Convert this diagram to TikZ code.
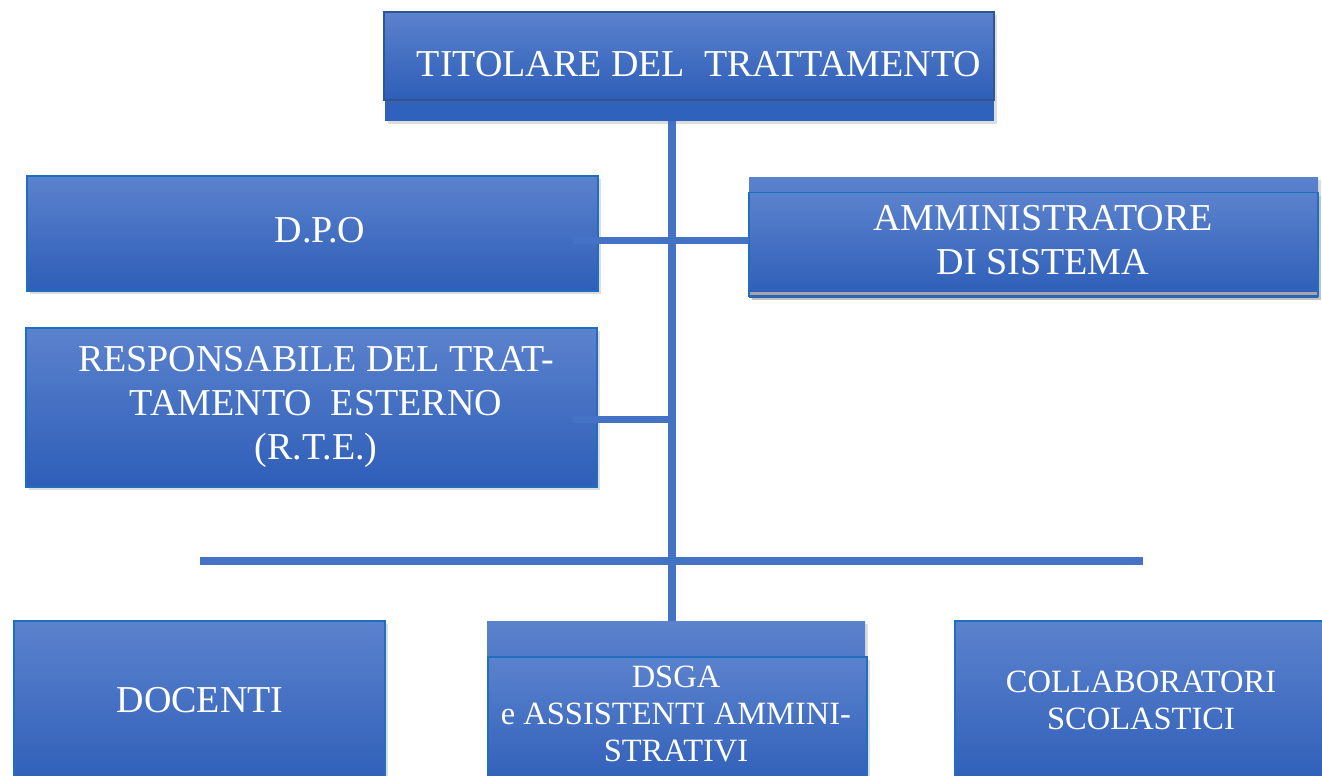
\documentclass[tikz,border=0pt]{standalone}
\usepackage{fontspec}
\setmainfont{Liberation Serif}
\usetikzlibrary{shadows}
\definecolor{ltop}{HTML}{5B82CD}
\definecolor{lbot}{HTML}{2E5EB8}
\definecolor{lnk}{HTML}{4472C4}
\definecolor{bord}{HTML}{1F6FC0}
\definecolor{bordd}{HTML}{2F5597}
\definecolor{bandc}{HTML}{2F62BD}
\begin{document}
\begin{tikzpicture}[x=1pt,y=-1pt,
  box/.style={rectangle, inner sep=0pt, outer sep=0pt, top color=ltop, bottom color=lbot,
    draw=bord, line width=1.2pt,
    drop shadow={shadow xshift=3pt, shadow yshift=-3pt, opacity=0.22, fill=black!60}},
  band/.style={rectangle, inner sep=0pt, outer sep=0pt, fill=bandc,
    drop shadow={shadow xshift=3pt, shadow yshift=-3pt, opacity=0.22, fill=black!60}},
  lbl/.style={text=white, align=center, inner sep=0pt, font=\fontsize{38}{44}\selectfont},
  lbls/.style={text=white, align=center, inner sep=0pt, font=\fontsize{32.5}{37}\selectfont},
  link/.style={draw=lnk, line width=7.5pt}]
\useasboundingbox (0,0) rectangle (1322,776);
\fill[white] (0,0) rectangle (1322,776);

\coordinate (tx) at (672,0);
\coordinate (h1) at (573,240);
\coordinate (h2) at (573,419);
\coordinate (hl) at (200,561);
\coordinate (hr) at (1143,561);

% boxes
\node[band, minimum width=609pt, minimum height=21pt] (tband) at (689.5,110.5) {};
\node[box, draw=bordd, minimum width=610pt, minimum height=88pt] (tit) at (689,56) {};
\node[box, minimum width=571pt, minimum height=115pt] (dpo) at (312.5,233.5) {};
\node[box, draw=none, minimum width=569pt, minimum height=120pt] (admo) at (1033.5,237) {};
\node[box, drop shadow={opacity=0}, minimum width=569pt, minimum height=104pt] (adm) at (1033.5,244.5) {};
\fill[black!35] (750,292) rectangle (1317,295);
\node[box, minimum width=571pt, minimum height=159pt] (rte) at (311.5,407.5) {};
\node[box, minimum width=371pt, minimum height=169pt] (doc) at (199.5,705.5) {};
\node[box, draw=none, minimum width=378pt, minimum height=169pt] (dsgao) at (676,705.5) {};
\node[box, drop shadow={opacity=0}, minimum width=379pt, minimum height=133pt] (dsga) at (677.5,723.5) {};
\node[box, minimum width=375pt, minimum height=169pt] (col) at (1142.5,705.5) {};

% connectors
\draw[link, line width=8pt] (tband.south -| tx) -- (dsgao.north -| tx);
\draw[link, line width=7pt] (h1) -- (h1 -| adm.west);
\draw[link, line width=7pt] (h2) -- (h2 -| tx);
\draw[link, line width=8pt] (hl) -- (hr);

% texts
\node[lbl] (ttit) at (699,64) {TITOLARE DEL\ \ TRATTAMENTO};
\node[lbl] (tdpo) at (320,230) {D.P.O};
\node[lbl] (tadm) at (1043,240) {AMMINISTRATORE\\DI SISTEMA};
\node[lbl] (trte) at (316,407) {RESPONSABILE DEL TRAT-\\TAMENTO\ \ ESTERNO\\(R.T.E.)};
\node[lbl] (tdoc) at (200,700) {DOCENTI};
\node[lbls] (tdsga) at (676,714) {DSGA\\e ASSISTENTI AMMINI-\\STRATIVI};
\node[lbls] (tcol) at (1141,700) {COLLABORATORI\\SCOLASTICI};
\end{tikzpicture}
\end{document}
